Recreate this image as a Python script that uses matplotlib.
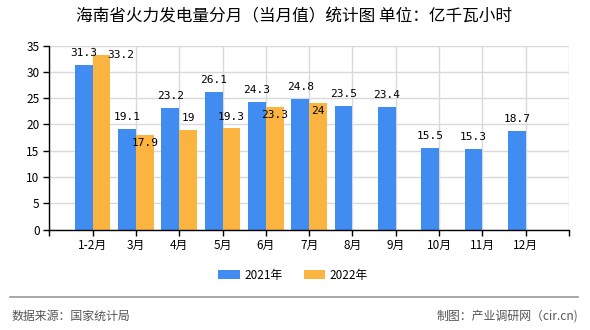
import numpy as np
import matplotlib
matplotlib.use("Agg")
import matplotlib.pyplot as plt
from matplotlib.patches import Patch
from matplotlib.lines import Line2D

plt.rcParams['font.family'] = ['Noto Sans CJK SC', 'DejaVu Sans']

# chart data
months = ['1-2月', '3月', '4月', '5月', '6月', '7月', '8月', '9月', '10月', '11月', '12月']
values_2021 = [31.3, 19.1, 23.2, 26.1, 24.3, 24.8, 23.5, 23.4, 15.5, 15.3, 18.7]
values_2022 = [33.2, 17.9, 19, 19.3, 23.3, 24]
series_names = ['2021年', '2022年']
y_ticks = [0, 5, 10, 15, 20, 25, 30, 35]

title = '海南省火力发电量分月（当月值）统计图 单位：亿千瓦小时'
source_text = '数据来源：国家统计局'
credit_text = '制图：产业调研网（cir.cn)'

# colours / style
BLUE = '#418cf0'
ORANGE = '#fbb43f'
GRID = '#d9d9d9'
BAR_W = 0.41

# label offsets (px) for the 2022 labels, chart avoids overlaps
orange_label_offsets = [(19, 0), (0, -8), (0, 12), (0, 11), (0, -8), (0, -8)]

fig = plt.figure(figsize=(5.9, 3.3), dpi=100)
ax = fig.add_axes([0.0836, 0.3045, 0.9644 - 0.0836, 0.862 - 0.3045])

x21 = np.arange(1, len(values_2021) + 1)
x22 = np.arange(1, len(values_2022) + 1)

ax.bar(x21 - BAR_W / 2, values_2021, width=BAR_W, color=BLUE, zorder=3)
ax.bar(x22 + BAR_W / 2, values_2022, width=BAR_W, color=ORANGE, zorder=3)

ax.set_xlim(0, 12)
ax.set_ylim(0, 35)
ax.set_yticks(y_ticks)
ax.set_xticks(np.arange(0, 13))
ax.set_xticklabels([''] + months + [''])

ax.grid(True, color=GRID, linewidth=1.0, zorder=0)
ax.set_axisbelow(True)
for s in ['top', 'right']:
    ax.spines[s].set_visible(False)
for s in ['left', 'bottom']:
    ax.spines[s].set_color('black')
    ax.spines[s].set_linewidth(1.0)
    ax.spines[s].set_zorder(4)

ax.tick_params(axis='both', direction='out', length=4, width=1, colors='black',
               labelsize=8.5, pad=3)
ax.tick_params(axis='x', pad=3)

px = 72 / 100  # points per pixel
mono = ['DejaVu Sans Mono']
for xi, v in zip(x21, values_2021):
    ax.annotate(f'{v:g}', (xi - BAR_W / 2, v), xytext=(0, 12 * px),
                textcoords='offset points', ha='center', va='center',
                fontsize=8, family=mono, zorder=5)
for xi, v, (dx, dy) in zip(x22, values_2022, orange_label_offsets):
    ax.annotate(f'{v:g}', (xi + BAR_W / 2, v), xytext=(dx * px, dy * px),
                textcoords='offset points', ha='center', va='center',
                fontsize=8, family=mono, zorder=5)

fig.text(0.498, 1 - 17 / 330, title, ha='center', va='center',
         fontsize=12, fontweight='medium', color='black')

handles = [Patch(facecolor=BLUE, edgecolor='none'),
           Patch(facecolor=ORANGE, edgecolor='none')]
fig.legend(handles, series_names, loc='center', bbox_to_anchor=(0.497, 1 - 275 / 330),
           ncol=2, frameon=False, fontsize=8.5, handlelength=1.8, handleheight=0.9,
           columnspacing=1.8, handletextpad=0.4)

fig.add_artist(Line2D([10 / 590, 578 / 590], [1 - 297 / 330, 1 - 297 / 330],
                      color='#999999', linewidth=1.2, transform=fig.transFigure))
fig.text(12 / 590, 1 - 316 / 330, source_text, ha='left', va='center',
         fontsize=8.6, color='#555555')
fig.text(578 / 590, 1 - 316 / 330, credit_text, ha='right', va='center',
         fontsize=8.6, color='#555555')

fig.savefig('out.png', dpi=100)
